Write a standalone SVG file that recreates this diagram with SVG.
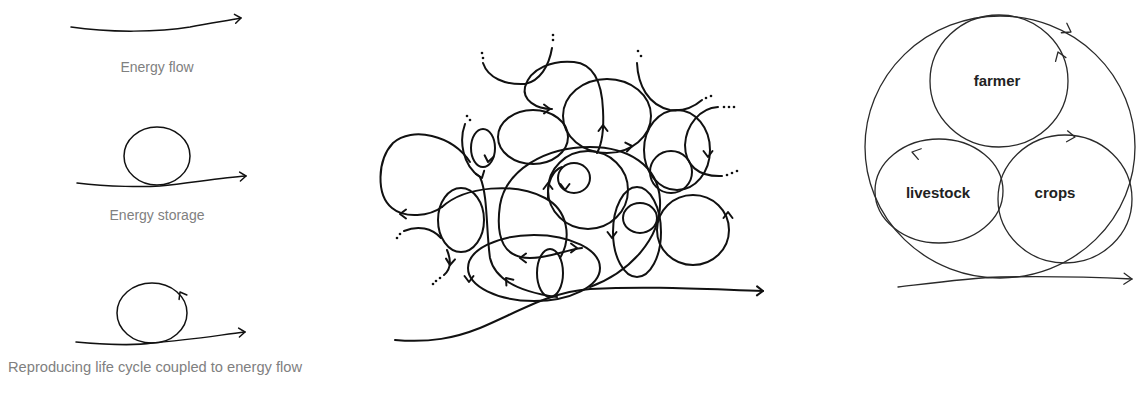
<svg xmlns="http://www.w3.org/2000/svg" xmlns:xlink="http://www.w3.org/1999/xlink" width="1137" height="396" viewBox="0 0 1137 396">
<style>
.ln{fill:none;stroke:#111;stroke-width:1.5;stroke-linecap:round;stroke-linejoin:round}
.mid{fill:none;stroke:#111;stroke-width:2;stroke-linecap:round;stroke-linejoin:round}
.rt{fill:none;stroke:#2a2a2a;stroke-width:1.3;stroke-linecap:round;stroke-linejoin:round}
.cap{font-family:"Liberation Sans",Arial,sans-serif;font-size:14px;fill:#808080;text-anchor:middle}
.lab{font-family:"Liberation Sans",Arial,sans-serif;font-size:15px;font-weight:bold;fill:#222;text-anchor:middle}
.dot{fill:#111}
</style>
<defs>
<path id="ch" d="M-6,-4.5 L0,0 L-6,4.5"/>
<path id="chL" d="M-8,-5.5 L0,0 L-8,5.5"/>
</defs>
<rect width="1137" height="396" fill="#fff"/>

<g id="energy-flow">
<path class="ln" d="M71,27 C110,33 160,32 190,27 C210,23 225,21 241,18"/>
<use xlink:href="#ch" class="ln" transform="translate(241,18) rotate(-8)"/>
<text class="cap" x="157" y="72">Energy flow</text>
</g>

<g id="energy-storage">
<ellipse class="ln" cx="157" cy="156" rx="33" ry="29"/>
<path class="ln" d="M77,183 C110,187 145,187 160,186 C190,183 220,178 246,176"/>
<use xlink:href="#ch" class="ln" transform="translate(246,176) rotate(-5)"/>
<text class="cap" x="157" y="220">Energy storage</text>
</g>

<g id="life-cycle">
<ellipse class="ln" cx="152" cy="313" rx="35" ry="30"/>
<use xlink:href="#ch" class="ln" transform="translate(180,292) rotate(-120)"/>
<path class="ln" d="M76,342 C110,345 140,345 152,343 C190,340 220,335 245,332"/>
<use xlink:href="#ch" class="ln" transform="translate(245,332) rotate(-5)"/>
<text class="cap" x="155" y="372" textLength="294" lengthAdjust="spacingAndGlyphs">Reproducing life cycle coupled to energy flow</text>
</g>

<g id="ecosystem">
<path class="mid" d="M395,340 C430,343 455,338 480,328 C520,311 550,292 590,289 C650,286 700,289 763,291"/>
<use xlink:href="#ch" class="mid" transform="translate(763,291) rotate(1)"/>
<path class="mid" d="M483,63 C488,78 505,85 525,84 C540,81 549,66 552,48"/>
<path class="mid" d="M552,109 C536,109 522,100 525,87 C530,68 553,60 574,62 C595,64 602,85 603,110 C604,128 603,142 597,153"/>
<ellipse class="mid" cx="533" cy="137" rx="35" ry="27"/>
<ellipse class="mid" cx="483" cy="148" rx="12" ry="19"/>
<path class="mid" d="M465,124 C459,140 462,165 480,177 C488,195 486,230 490,258 C495,280 520,292 557,297"/>
<path class="mid" d="M470,162 C452,135 412,126 393,143 C377,160 376,195 392,208 C405,219 430,216 442,207"/>
<ellipse class="mid" cx="461" cy="220" rx="23" ry="32"/>
<path class="mid" d="M404,231 C418,225 432,228 441,238"/>
<path class="mid" d="M447,250 C452,262 450,270 444,275"/>
<path class="mid" d="M442,207 C465,186 515,182 545,198 C568,210 572,238 560,258"/>
<path class="mid" d="M590,287 C630,272 662,238 660,200 C658,165 628,147 590,147 C545,147 506,170 500,205 C495,240 505,258 530,258 C550,258 565,250 582,248"/>
<ellipse class="mid" cx="534" cy="268" rx="66" ry="33"/>
<ellipse class="mid" cx="550" cy="273" rx="13" ry="24"/>
<ellipse class="mid" cx="588" cy="190" rx="40" ry="39"/>
<ellipse class="mid" cx="574" cy="178" rx="16" ry="15"/>
<path class="mid" d="M548,198 C547,182 553,170 562,167"/>
<ellipse class="mid" cx="607" cy="116" rx="44" ry="37"/>
<path class="mid" d="M637,63 C638,85 648,105 670,110 C685,112 695,106 702,100"/>
<ellipse class="mid" cx="677" cy="150" rx="33" ry="40"/>
<ellipse class="mid" cx="671" cy="172" rx="21" ry="21"/>
<path class="mid" d="M718,107 C700,108 686,125 685,145 C685,165 698,177 722,176"/>
<ellipse class="mid" cx="693" cy="230" rx="36" ry="35"/>
<ellipse class="mid" cx="640" cy="218" rx="17" ry="15"/>
<ellipse class="mid" cx="637" cy="232" rx="24" ry="45"/>
<circle class="dot" cx="482" cy="53" r="1.3"/><circle class="dot" cx="483" cy="58" r="1.3"/>
<circle class="dot" cx="553" cy="35" r="1.3"/><circle class="dot" cx="553" cy="40" r="1.3"/>
<circle class="dot" cx="467" cy="116" r="1.3"/><circle class="dot" cx="470" cy="120" r="1.3"/>
<circle class="dot" cx="638" cy="51" r="1.3"/><circle class="dot" cx="641" cy="56" r="1.3"/>
<circle class="dot" cx="706" cy="98" r="1.3"/><circle class="dot" cx="711" cy="96" r="1.3"/>
<circle class="dot" cx="724" cy="107" r="1.3"/><circle class="dot" cx="729" cy="107" r="1.3"/><circle class="dot" cx="734" cy="107" r="1.3"/>
<circle class="dot" cx="727" cy="175" r="1.3"/><circle class="dot" cx="732" cy="173" r="1.3"/><circle class="dot" cx="737" cy="171" r="1.3"/>
<circle class="dot" cx="400" cy="234" r="1.3"/><circle class="dot" cx="397" cy="238" r="1.3"/>
<circle class="dot" cx="440" cy="278" r="1.3"/><circle class="dot" cx="436" cy="281" r="1.3"/><circle class="dot" cx="433" cy="284" r="1.3"/>
<use xlink:href="#ch" class="mid" transform="translate(550,109) rotate(0)"/>
<use xlink:href="#ch" class="mid" transform="translate(603,125) rotate(-90)"/>
<use xlink:href="#ch" class="mid" transform="translate(632,146) rotate(-10)"/>
<use xlink:href="#ch" class="mid" transform="translate(708,157) rotate(90)"/>
<use xlink:href="#ch" class="mid" transform="translate(488,162) rotate(100)"/>
<use xlink:href="#ch" class="mid" transform="translate(482,178) rotate(70)"/>
<use xlink:href="#ch" class="mid" transform="translate(400,214) rotate(180)"/>
<use xlink:href="#ch" class="mid" transform="translate(450,265) rotate(95)"/>
<use xlink:href="#ch" class="mid" transform="translate(506,278) rotate(-130)"/>
<use xlink:href="#ch" class="mid" transform="translate(469,282) rotate(90)"/>
<use xlink:href="#ch" class="mid" transform="translate(520,258) rotate(180)"/>
<use xlink:href="#ch" class="mid" transform="translate(577,248) rotate(0)"/>
<use xlink:href="#ch" class="mid" transform="translate(612,238) rotate(90)"/>
<use xlink:href="#ch" class="mid" transform="translate(728,212) rotate(-90)"/>
<use xlink:href="#ch" class="mid" transform="translate(565,190) rotate(90)"/>
<use xlink:href="#ch" class="mid" transform="translate(548,183) rotate(-90)"/>
</g>

<g id="farm-system">
<ellipse class="rt" cx="1000" cy="147" rx="135" ry="131"/>
<use xlink:href="#chL" class="rt" transform="translate(1071,32) rotate(30)"/>
<path class="rt" d="M898,287 C940,282 970,278 1000,277 C1050,276 1090,277 1132,279"/>
<use xlink:href="#chL" class="rt" transform="translate(1132,279) rotate(2)"/>
</g>

<g id="farmer">
<ellipse class="rt" cx="999" cy="81" rx="69" ry="66"/>
<use xlink:href="#chL" class="rt" transform="translate(1058,52) rotate(-110)"/>
<text class="lab" x="997" y="86">farmer</text>
</g>

<g id="livestock">
<ellipse class="rt" cx="939" cy="191" rx="64" ry="52"/>
<use xlink:href="#chL" class="rt" transform="translate(912,152) rotate(195)"/>
<text class="lab" x="938" y="198">livestock</text>
</g>

<g id="crops">
<ellipse class="rt" cx="1065" cy="199" rx="67" ry="64"/>
<use xlink:href="#chL" class="rt" transform="translate(1075,137) rotate(5)"/>
<text class="lab" x="1055" y="198">crops</text>
</g>
</svg>
